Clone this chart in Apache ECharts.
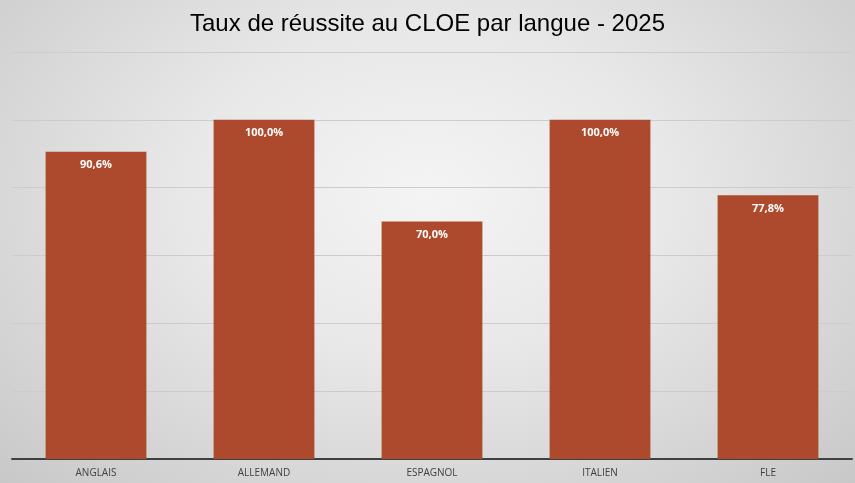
<!DOCTYPE html>
<html>
<head>
<meta charset="utf-8">
<script src="https://cdn.jsdelivr.net/npm/echarts@6/dist/echarts.min.js"></script>
<style>
  html, body { margin: 0; padding: 0; }
  #chart {
    width: 855px; height: 483px;
    background: radial-gradient(ellipse at 50% 40%, #f4f4f4 0%, #e8e8e8 40%, #c8c8c8 100%);
  }
</style>
</head>
<body>
<div id="chart"></div>
<script>
var langues = ['ANGLAIS', 'ALLEMAND', 'ESPAGNOL', 'ITALIEN', 'FLE'];
var taux = [90.6, 100.0, 70.0, 100.0, 77.8];

var myChart = echarts.init(document.getElementById('chart'));
var option = {
    backgroundColor: 'transparent',
    title: {
        text: 'Taux de réussite au CLOE par langue - 2025',
        left: 'center',
        top: 7,
        textStyle: {
            fontFamily: 'Liberation Sans',
            fontSize: 24,
            fontWeight: 'normal',
            color: '#000'
        }
    },
    grid: { left: 12, right: 3, top: 52, bottom: 24, containLabel: false },
    xAxis: {
        type: 'category',
        data: langues,
        axisLine: { lineStyle: { color: '#404040', width: 2 } },
        axisTick: { show: false },
        axisLabel: {
            color: '#404040',
            fontFamily: 'Open Sans',
            fontSize: 10,
            margin: 9
        }
    },
    yAxis: {
        type: 'value',
        min: 0,
        max: 120,
        interval: 20,
        axisLabel: { show: false },
        axisLine: { show: false },
        axisTick: { show: false },
        splitLine: { lineStyle: { color: '#cccccc', width: 1 } }
    },
    series: [{
        type: 'bar',
        data: taux,
        barWidth: '60%',
        itemStyle: { color: '#ad4a2d' },
        label: {
            show: true,
            position: 'insideTop',
            distance: 8,
            color: '#fff',
            fontFamily: 'Open Sans',
            fontWeight: 'bold',
            fontSize: 11,
            formatter: function (p) {
                return p.value.toFixed(1).replace('.', ',') + '%';
            }
        }
    }]
};
myChart.setOption(option);
</script>
</body>
</html>
